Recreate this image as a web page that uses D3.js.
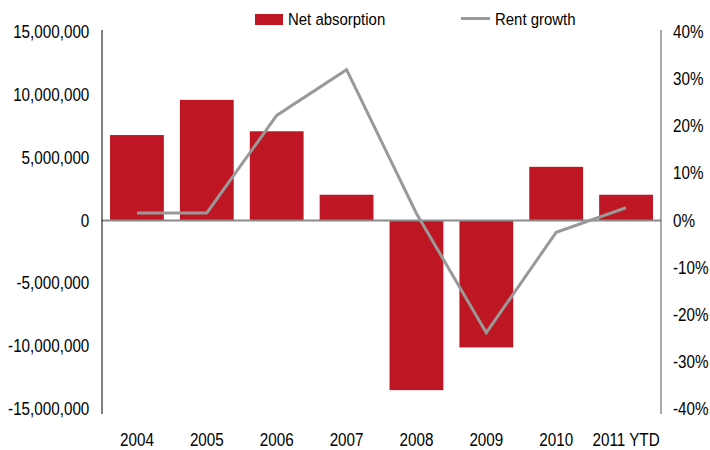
<!DOCTYPE html>
<html><head><meta charset="utf-8">
<script src="https://cdn.jsdelivr.net/npm/d3@7"></script>
<style>body{margin:0;background:#fff}svg{display:block}text{font-family:"Liberation Sans",Arial,sans-serif;fill:#000}</style>
</head><body><svg id="c" width="710" height="450"></svg>
<script>
const categories = ["2004","2005","2006","2007","2008","2009","2010","2011 YTD"];
const netAbsorption = [6800000, 9600000, 7100000, 2050000, -13500000, -10100000, 4270000, 2050000];
const rentGrowth = [0.016, 0.016, 0.223, 0.32, 0.015, -0.238, -0.025, 0.027];
const leftTicks = [15000000, 10000000, 5000000, 0, -5000000, -10000000, -15000000];
const rightTicks = [0.4, 0.3, 0.2, 0.1, 0, -0.1, -0.2, -0.3, -0.4];
const seriesNames = ["Net absorption", "Rent growth"];

const svg = d3.select("#c");
const x0 = 102, x1 = 661, yTop = 32, yBot = 409;
const x = d3.scaleBand().domain(categories).range([x0, x1]).paddingInner(0.23).paddingOuter(0.115);
const yL = d3.scaleLinear().domain([-15000000, 15000000]).range([yBot, yTop]);
const yR = d3.scaleLinear().domain([-0.4, 0.4]).range([yBot, yTop]);
const red = "#BE1622", gray = "#999999";
const fs = "17.5px", sx = 0.87;

function squeeze(sel, s) {
  sel.each(function() {
    const t = d3.select(this);
    const ax = +t.attr("x") || 0;
    t.attr("transform", `translate(${ax},0) scale(${s},1) translate(${-ax},0)`);
  });
}

// bars
svg.append("g").selectAll("rect").data(netAbsorption).join("rect")
  .attr("x", (d,i) => x(categories[i]))
  .attr("width", x.bandwidth())
  .attr("y", d => yL(Math.max(0,d)))
  .attr("height", d => Math.abs(yL(d) - yL(0)))
  .attr("fill", red);

// zero line
svg.append("line").attr("x1", x0).attr("x2", x1).attr("y1", yL(0)).attr("y2", yL(0))
  .attr("stroke", "#8a8a8a").attr("stroke-width", 2);

// left axis
const axL = d3.axisLeft(yL).tickValues(leftTicks).tickSize(0).tickPadding(12.7)
  .tickFormat(d => d3.format(",")(d).replace("−","-"));
const gL = svg.append("g").attr("transform", `translate(${x0},0)`).call(axL);
gL.select(".domain").attr("stroke", "#000").attr("d", `M0,${yTop-2}V${yBot+5}`);
gL.selectAll("text").style("font-size", fs).attr("font-family", null).call(squeeze, sx);

// right axis
const axR = d3.axisRight(yR).tickValues(rightTicks).tickSize(0).tickPadding(12)
  .tickFormat(d => d3.format(".0%")(d).replace("−","-"));
const gR = svg.append("g").attr("transform", `translate(${x1},0)`).call(axR);
gR.select(".domain").attr("stroke", "#555").attr("d", `M0,${yTop-2}V${yBot+5}`);
gR.selectAll("text").style("font-size", fs).attr("font-family", null).call(squeeze, sx);

// bottom labels
const axB = d3.axisBottom(x).tickSize(0).tickPadding(0);
const gB = svg.append("g").attr("transform", `translate(0,${434})`).call(axB);
gB.select(".domain").remove();
gB.selectAll("text").style("font-size", fs).attr("font-family", null).call(squeeze, sx);

// line
const line = d3.line().x((d,i) => x(categories[i]) + x.bandwidth()/2).y(d => yR(d));
svg.append("path").datum(rentGrowth).attr("d", line).attr("fill","none")
  .attr("stroke", gray).attr("stroke-width", 3).attr("stroke-linejoin","miter");

// legend
const lg = svg.append("g");
lg.append("rect").attr("x", 255).attr("y", 14).attr("width", 28).attr("height", 11).attr("fill", red);
lg.append("text").attr("x", 288).attr("y", 25.5).style("font-size", "17px").text(seriesNames[0]).call(squeeze, 0.88);
lg.append("line").attr("x1", 461).attr("x2", 490).attr("y1", 18.5).attr("y2", 18.5).attr("stroke", gray).attr("stroke-width", 3);
lg.append("text").attr("x", 495).attr("y", 25.5).style("font-size", "17px").text(seriesNames[1]).call(squeeze, 0.88);
</script></body></html>
